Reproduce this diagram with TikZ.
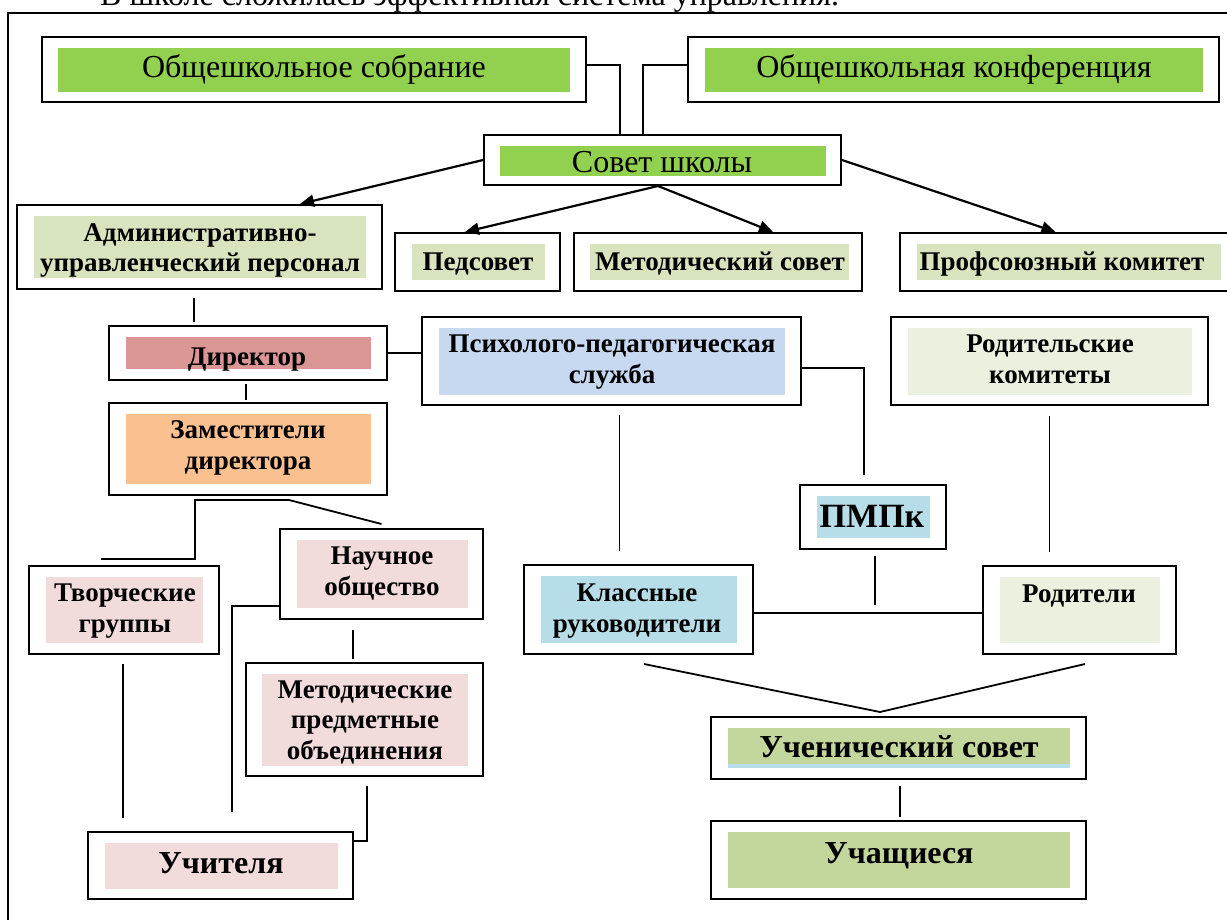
\documentclass[tikz,border=0pt]{standalone}
\usepackage{fontspec}
\setmainfont{Liberation Serif}
\usetikzlibrary{fit,arrows.meta,calc}
\definecolor{cgreen}{HTML}{92D050}
\definecolor{colive}{HTML}{D7E4BD}
\definecolor{colivetwo}{HTML}{C3D69B}
\definecolor{cdir}{HTML}{D99694}
\definecolor{corange}{HTML}{FAC090}
\definecolor{cblue}{HTML}{C6D9F1}
\definecolor{clight}{HTML}{EBF1DE}
\definecolor{ccyan}{HTML}{B7DEE8}
\definecolor{cpink}{HTML}{F2DCDB}
\begin{document}
\begin{tikzpicture}[x=1pt,y=-1pt,
  obox/.style={draw, line width=2pt, inner sep=0pt, fill=white},
  ibox/.style={inner sep=0pt, draw=none},
  rtxt/.style={inner sep=0pt, anchor=base, font=\fontsize{32}{36}\selectfont},
  btxt/.style={inner sep=0pt, anchor=base, align=center, font=\bfseries\fontsize{27}{30.5}\selectfont},
  bigtxt/.style={inner sep=0pt, anchor=base, font=\bfseries\fontsize{32}{36}\selectfont},
  conn/.style={line width=1.8pt},
  arr/.style={line width=2.2pt, -{Triangle[length=14pt,width=12pt]}}
]
\useasboundingbox (0,0) rectangle (1227,920);
\clip (0,0) rectangle (1227,920);
\fill[white] (0,0) rectangle (1227,920);

% caption cut by the page edge, as in the source
\node[rtxt, anchor=base west] (cap) at (100,6) {В школе сложилась эффективная система управления.};
% frame
\draw[line width=2.4pt] (8,940) -- (8,13) -- (1240,13);

% ---- boxes ----
\node[obox, fit={(42,37) (586,102)}] (sobr) {};
\node[ibox, fill=cgreen, fit={(58,48) (570,92)}] (sobr-i) {};
\node[rtxt] (sobr-t) at (314,78) {Общешкольное собрание};

\node[obox, fit={(688,37) (1219,102)}] (conf) {};
\node[ibox, fill=cgreen, fit={(705,48) (1203,92)}] (conf-i) {};
\node[rtxt] (conf-t) at (954,78) {Общешкольная конференция};

\node[obox, fit={(484,135) (841,185)}] (sovet) {};
\node[ibox, fill=cgreen, fit={(500,146) (826,176)}] (sovet-i) {};
\node[rtxt] (sovet-t) at (662,173) {Совет школы};

\node[obox, fit={(17,205) (382,289)}] (aup) {};
\node[ibox, fill=colive, fit={(34,216) (366,278)}] (aup-i) {};
\node[btxt] (aup-t) at (200,272) {Административно-\\управленческий персонал};

\node[obox, fit={(395,233) (560,291)}] (ped) {};
\node[ibox, fill=colive, fit={(412,244) (545,280)}] (ped-i) {};
\node[btxt] (ped-t) at (478,271) {Педсовет};

\node[obox, fit={(574,233) (862,291)}] (metsov) {};
\node[ibox, fill=colive, fit={(590,244) (849,280)}] (metsov-i) {};
\node[btxt] (metsov-t) at (720,271) {Методический совет};

\node[obox, fit={(900,233) (1240,291)}] (prof) {};
\node[ibox, fill=colive, fit={(917,244) (1221,280)}] (prof-i) {};
\node[btxt] (prof-t) at (1062,271) {Профсоюзный комитет};

\node[obox, fit={(109,326) (387,380)}] (dir) {};
\node[ibox, fill=cdir, fit={(126,337) (371,369)}] (dir-i) {};
\node[btxt] (dir-t) at (247,365) {Директор};

\node[obox, fit={(109,403) (387,495)}] (zam) {};
\node[ibox, fill=corange, fit={(126,414) (371,484)}] (zam-i) {};
\node[btxt] (zam-t) at (248,469) {Заместители\\директора};

\node[obox, fit={(422,317) (801,405)}] (pps) {};
\node[ibox, fill=cblue, fit={(439,328) (785,395)}] (pps-i) {};
\node[btxt] (pps-t) at (612,383) {Психолого-педагогическая\\служба};

\node[obox, fit={(891,317) (1208,405)}] (rk) {};
\node[ibox, fill=clight, fit={(908,328) (1192,395)}] (rk-i) {};
\node[btxt] (rk-t) at (1050,383) {Родительские\\комитеты};

\node[obox, fit={(800,485) (946,549)}] (pmpk) {};
\node[ibox, fill=ccyan, fit={(817,496) (930,538)}] (pmpk-i) {};
\node[bigtxt, font=\bfseries\fontsize{34}{38}\selectfont] (pmpk-t) at (872,527) {ПМПк};

\node[obox, fit={(524,565) (753,654)}] (klass) {};
\node[ibox, fill=ccyan, fit={(541,576) (737,643)}] (klass-i) {};
\node[btxt] (klass-t) at (637,632) {Классные\\руководители};

\node[obox, fit={(983,566) (1176,654)}] (rod) {};
\node[ibox, fill=clight, fit={(1000,577) (1160,643)}] (rod-i) {};
\node[btxt] (rod-t) at (1079,602) {Родители};

\node[obox, fit={(711,717) (1086,779)}] (uch) {};
\node[ibox, fill=colivetwo, fit={(728,728) (1070,768)}] (uch-i) {};
\fill[ccyan] (728,764) rectangle (1070,768);
\node[bigtxt] (uch-t) at (899,757) {Ученический совет};

\node[obox, fit={(711,821) (1086,899)}] (ucha) {};
\node[ibox, fill=colivetwo, fit={(728,832) (1070,888)}] (ucha-i) {};
\node[bigtxt] (ucha-t) at (899,863) {Учащиеся};

\node[obox, fit={(29,566) (219,654)}] (tvor) {};
\node[ibox, fill=cpink, fit={(46,577) (203,643)}] (tvor-i) {};
\node[btxt] (tvor-t) at (125,632) {Творческие\\группы};

\node[obox, fit={(280,529) (483,619)}] (nauch) {};
\node[ibox, fill=cpink, fit={(297,540) (468,608)}] (nauch-i) {};
\node[btxt] (nauch-t) at (382,595) {Научное\\общество};

\node[obox, fit={(246,663) (483,776)}] (met) {};
\node[ibox, fill=cpink, fit={(262,674) (468,766)}] (met-i) {};
\node[btxt] (met-t) at (365,759) {Методические\\предметные\\объединения};

\node[obox, fit={(88,832) (353,899)}] (uchit) {};
\node[ibox, fill=cpink, fit={(105,843) (338,889)}] (uchit-i) {};
\node[bigtxt] (uchit-t) at (221,873) {Учителя};

% ---- connectors ----
\draw[conn] ([yshift=4.5pt]sobr.east) -| ([xshift=-42.5pt]sovet.north);
\draw[conn] ([yshift=4.5pt]conf.west) -| ([xshift=-19.5pt]sovet.north);

\draw[arr] (sovet.west) -- ([xshift=100.5pt]aup.north);
\coordinate (sv) at ([xshift=-4.5pt]sovet.south);
\draw[arr] (sv) -- ([xshift=-12.5pt]ped.north);
\draw[arr] (sv) -- ([xshift=55pt]metsov.north);
\draw[arr] (sovet.east) -- ([xshift=-14.5pt]prof.north);

\draw[conn, shorten <=8pt, shorten >=3pt] ([xshift=-5.5pt]aup.south) -- ([xshift=-5.5pt]aup.south |- dir.north);
\draw[conn, shorten <=3pt, shorten >=2pt] ([xshift=-2pt]dir.south) -- ([xshift=-2pt]zam.north);
\draw[conn] (dir.east) -- (dir.east -| pps.west);
\draw[conn] ([yshift=-7pt]pps.east) -| ([xshift=-9pt,yshift=9pt]pmpk.north);
\draw[conn, shorten <=9pt, shorten >=13pt] ([xshift=8pt]pps.south) -- ([xshift=8pt]pps.south |- klass.north);
\draw[conn, shorten <=10pt, shorten >=13pt] (rk.south) -- (rk.south |- rod.north);
\draw[conn, shorten <=6pt, shorten >=5pt] ([xshift=2pt]pmpk.south) -- ([xshift=2pt]pmpk.south |- klass.east);
\draw[line width=2.2pt] ([yshift=-3.5pt]klass.east) -- ([yshift=-3.5pt]klass.east -| rod.west);

\coordinate (uj) at ([xshift=-18.5pt,yshift=4pt]uch.north);
\draw[conn] ([xshift=5.5pt,yshift=-9pt]klass.south) -- (uj);
\draw[conn] ([xshift=5.5pt,yshift=-9pt]rod.south) -- (uj);
\draw[conn, shorten <=6pt, shorten >=3pt] ([xshift=1.5pt]uch.south) -- ([xshift=1.5pt]ucha.north);

\draw[conn] ([xshift=-23pt,yshift=6pt]tvor.north) -| ++(94,-59) -- ++(94,0) -- ([yshift=4pt]nauch.north);
\draw[conn] ([yshift=-32pt]nauch.west) -| ([xshift=11.5pt,yshift=19pt]uchit.north);
\draw[conn, shorten <=10pt, shorten >=3pt] ([xshift=-28.5pt]nauch.south) -- ([xshift=-28.5pt]nauch.south |- met.north);
\draw[conn] ([yshift=24.5pt]uchit.east) -| ([xshift=2.5pt,yshift=-9pt]met.south);
\draw[conn, shorten <=9pt, shorten >=13pt] ([xshift=-1pt]tvor.south) -- ([xshift=-1pt]tvor.south |- uchit.north);
\end{tikzpicture}
\end{document}
